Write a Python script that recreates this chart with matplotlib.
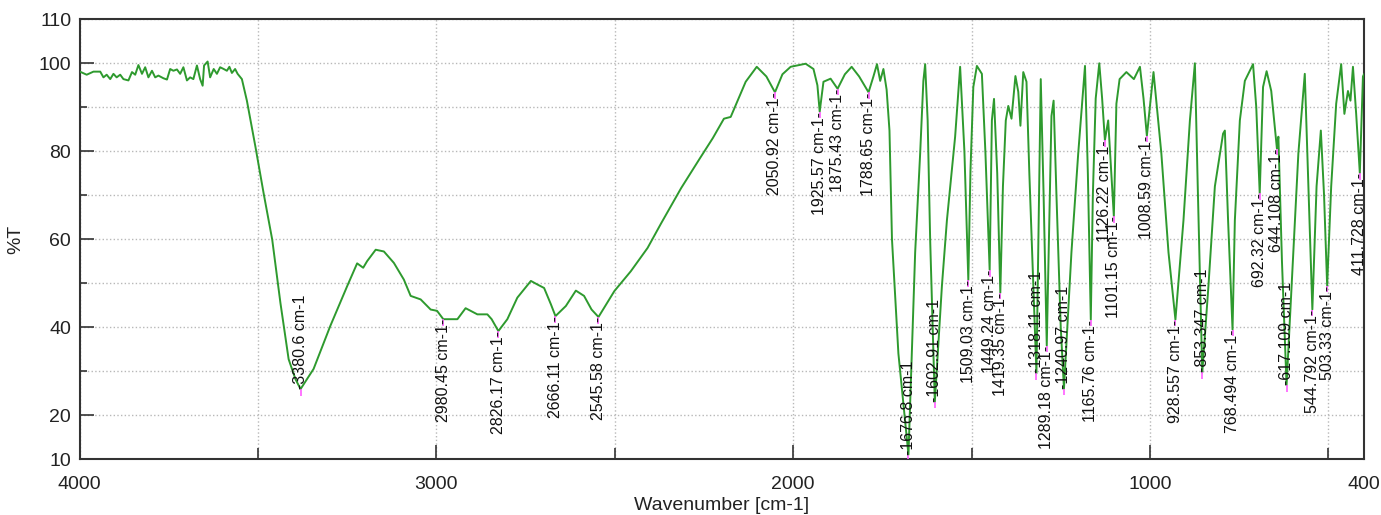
import numpy as np
import matplotlib.pyplot as plt

plt.rcParams['font.family'] = ['Liberation Sans', 'DejaVu Sans']

# %%
# Spectrum, (wavenumber, %T), high -> low wavenumber

# noisy baseline above the OH band
baseline = [(4000, 98.0), (3999, 98.1), (3980, 97.4), (3961, 98.1), (3942, 98.1), (3933, 96.8),
            (3924, 97.4), (3914, 96.4), (3905, 97.6), (3896, 96.8), (3886, 97.4), (3877, 96.4),
            (3863, 96.1), (3853, 98.0), (3844, 97.4), (3835, 99.6), (3825, 97.6), (3816, 99.1),
            (3807, 96.8), (3797, 98.3), (3788, 96.8), (3779, 97.2), (3765, 96.6), (3755, 96.3),
            (3746, 98.7), (3737, 98.3), (3727, 98.6), (3718, 97.6), (3709, 99.1), (3699, 96.1),
            (3690, 96.8), (3681, 96.4), (3671, 99.5), (3662, 96.4), (3655, 94.9), (3651, 99.5),
            (3641, 100.4), (3634, 96.8), (3624, 98.7), (3615, 97.6), (3606, 99.1), (3596, 98.7),
            (3587, 98.3), (3580, 99.2), (3573, 97.8), (3564, 98.7), (3557, 97.6), (3545, 96.4)]

# broad OH band
oh_band = [(3531, 91.5), (3507, 81.0), (3484, 70.4), (3460, 59.9), (3437, 45.5), (3414, 32.7),
           (3395, 28.2), (3380.6, 25.9), (3344, 30.5), (3297, 40.3), (3250, 49.3), (3222, 54.5),
           (3205, 53.5), (3194, 55.0), (3170, 57.6), (3147, 57.2), (3119, 54.6), (3091, 50.8),
           (3072, 47.1), (3044, 46.3), (3016, 44.0)]

# CH / acid region
ch_region = [(2998, 43.7), (2980.45, 41.8), (2941, 41.8), (2918, 44.3), (2885, 42.9), (2857, 42.9),
             (2845, 41.8), (2826.17, 39.1), (2801, 41.8), (2773, 46.7), (2735, 50.5), (2717, 49.7),
             (2698, 48.9), (2679, 45.2), (2666.11, 42.5), (2637, 44.8), (2609, 48.3), (2586, 47.1),
             (2565, 44.0), (2545.58, 42.3), (2501, 48.2), (2455, 52.7), (2408, 58.0)]

# rise back to baseline and weak overtones
overtones = [(2370, 63.6), (2314, 71.6), (2262, 78.3), (2225, 83.0), (2194, 87.4), (2175, 87.8),
             (2133, 95.8), (2102, 99.2), (2075, 97.0), (2050.92, 93.4), (2030, 97.5), (2007, 99.2),
             (1965, 99.9), (1943, 98.7), (1932, 95.0), (1925.57, 89.0), (1915, 95.8), (1895, 96.5),
             (1875.43, 94.2), (1855, 97.5), (1836, 99.2), (1815, 97.0), (1788.65, 93.4), (1775, 97.0),
             (1765, 99.8), (1756, 96.0), (1747, 98.7), (1738, 94.0)]

# fingerprint region
fingerprint = [(1730, 84.7), (1723, 60.0), (1705, 34.0), (1676.8, 11.0), (1658, 57.0), (1644, 79.5),
               (1635, 96.0), (1630, 99.8), (1623, 87.0), (1616, 60.0), (1602.91, 23.0), (1583, 49.4),
               (1569, 64.3), (1546, 83.3), (1532, 99.2), (1520, 80.0), (1509.03, 50.7), (1503, 75.6),
               (1495, 94.6), (1485, 99.4), (1471, 97.6), (1461, 79.5), (1449.24, 53.0), (1443, 87.0),
               (1437, 91.9), (1428, 75.0), (1419.35, 47.8), (1412, 72.0), (1404, 87.0), (1397, 90.3),
               (1388, 87.4), (1377, 97.1), (1369, 93.5), (1363, 85.8), (1355, 98.0), (1346, 95.8),
               (1338, 75.0), (1318.11, 29.5), (1312, 64.0), (1306, 96.4), (1298, 70.0), (1289.18, 35.8),
               (1283, 60.0), (1276, 88.0), (1270, 91.5), (1262, 70.0), (1250, 40.0), (1240.97, 26.0),
               (1220, 57.0), (1201, 79.5), (1182, 99.4), (1174, 75.0), (1165.76, 41.7), (1160, 70.0),
               (1152, 92.0), (1142, 100.0), (1134, 92.0), (1126.22, 82.5), (1117, 87.0), (1101.15, 65.2),
               (1094, 90.8), (1085, 96.4), (1066, 98.0), (1045, 96.4), (1028, 99.2), (1018, 92.0),
               (1008.59, 83.5), (990, 98.0), (968, 79.5), (948, 57.0), (928.557, 41.7), (906, 64.3),
               (888, 87.0), (874, 100.0), (866, 72.0), (853.347, 29.7), (836, 49.4), (818, 72.0),
               (795, 84.0), (790, 84.7), (781, 64.3), (768.494, 39.4), (762, 64.3), (748, 87.0),
               (734, 96.0), (711, 99.8), (702, 90.0), (692.32, 70.4), (683, 94.6), (673, 98.2),
               (660, 93.7), (644.108, 80.6), (640, 83.3), (630, 55.0), (617.109, 26.8), (603, 49.4),
               (584, 79.5), (566, 97.6), (557, 75.0), (544.792, 44.0), (533, 72.0), (521, 84.7),
               (512, 70.0), (503.33, 49.4), (492, 72.0), (478, 90.8), (464, 99.8), (455, 88.5),
               (445, 93.7), (438, 91.5), (431, 99.2), (422, 88.5), (411.728, 75.0), (403, 97.0),
               (400, 97.5)]

# labelled peaks
peak_labels = ['3380.6', '2980.45', '2826.17', '2666.11', '2545.58', '2050.92', '1925.57',
               '1875.43', '1788.65', '1676.8', '1602.91', '1509.03', '1449.24', '1419.35',
               '1318.11', '1289.18', '1240.97', '1165.76', '1126.22', '1101.15', '1008.59',
               '928.557', '853.347', '768.494', '692.32', '644.108', '617.109', '544.792',
               '503.33', '411.728']

# %%

spectrum = np.array(baseline + oh_band + ch_region + overtones + fingerprint)
wn = spectrum[:, 0]
trans = spectrum[:, 1]

fig = plt.figure(figsize=(13.81, 5.15), dpi=100)
ax = fig.add_axes([0.0576, 0.1087, 0.9301, 0.8538])

ax.plot(wn, trans, color='#2e9a2e', lw=1.4, zorder=3)

# peak annotations
for lab in peak_labels:
    x = float(lab)
    y = np.interp(x, wn[::-1], trans[::-1])
    ax.vlines(x, y - 1.5, y, color='#ff5cff', lw=1.2, zorder=4)
    if y < 32:
        ax.text(x, y, f'-{lab} cm-1', rotation=90, ha='center', va='bottom',
                fontsize=11.5, color='#111111', zorder=5)
    else:
        ax.text(x, y, f'{lab} cm-1-', rotation=90, ha='center', va='top',
                fontsize=11.5, color='#111111', zorder=5)

ax.set_xlim(4000, 400)
ax.set_ylim(10, 110)
ax.set_xticks([4000, 3000, 2000, 1000, 400])
ax.set_xticks([3500, 2500, 1500, 500], minor=True)
ax.set_yticks([10, 20, 40, 60, 80, 100, 110])
ax.set_yticks([30, 50, 70, 90], minor=True)
ax.tick_params(which='both', direction='in', top=False, right=False, width=1.2, color='#333333')
ax.tick_params(which='major', length=10, labelsize=14, labelcolor='#222222', pad=6)
ax.tick_params(axis='x', which='major', pad=12)
ax.tick_params(axis='y', which='minor', length=5)
ax.tick_params(axis='x', which='minor', length=8)
ax.grid(which='both', color='#b8b8b8', ls=':', lw=1.0)

for s in ax.spines.values():
    s.set_color('#333333')
    s.set_linewidth(1.5)

ax.set_xlabel('Wavenumber [cm-1]', fontsize=14, color='#222222', labelpad=3)
ax.set_ylabel('%T', fontsize=14, color='#222222', labelpad=10)

fig.savefig('out.png', dpi=100)
